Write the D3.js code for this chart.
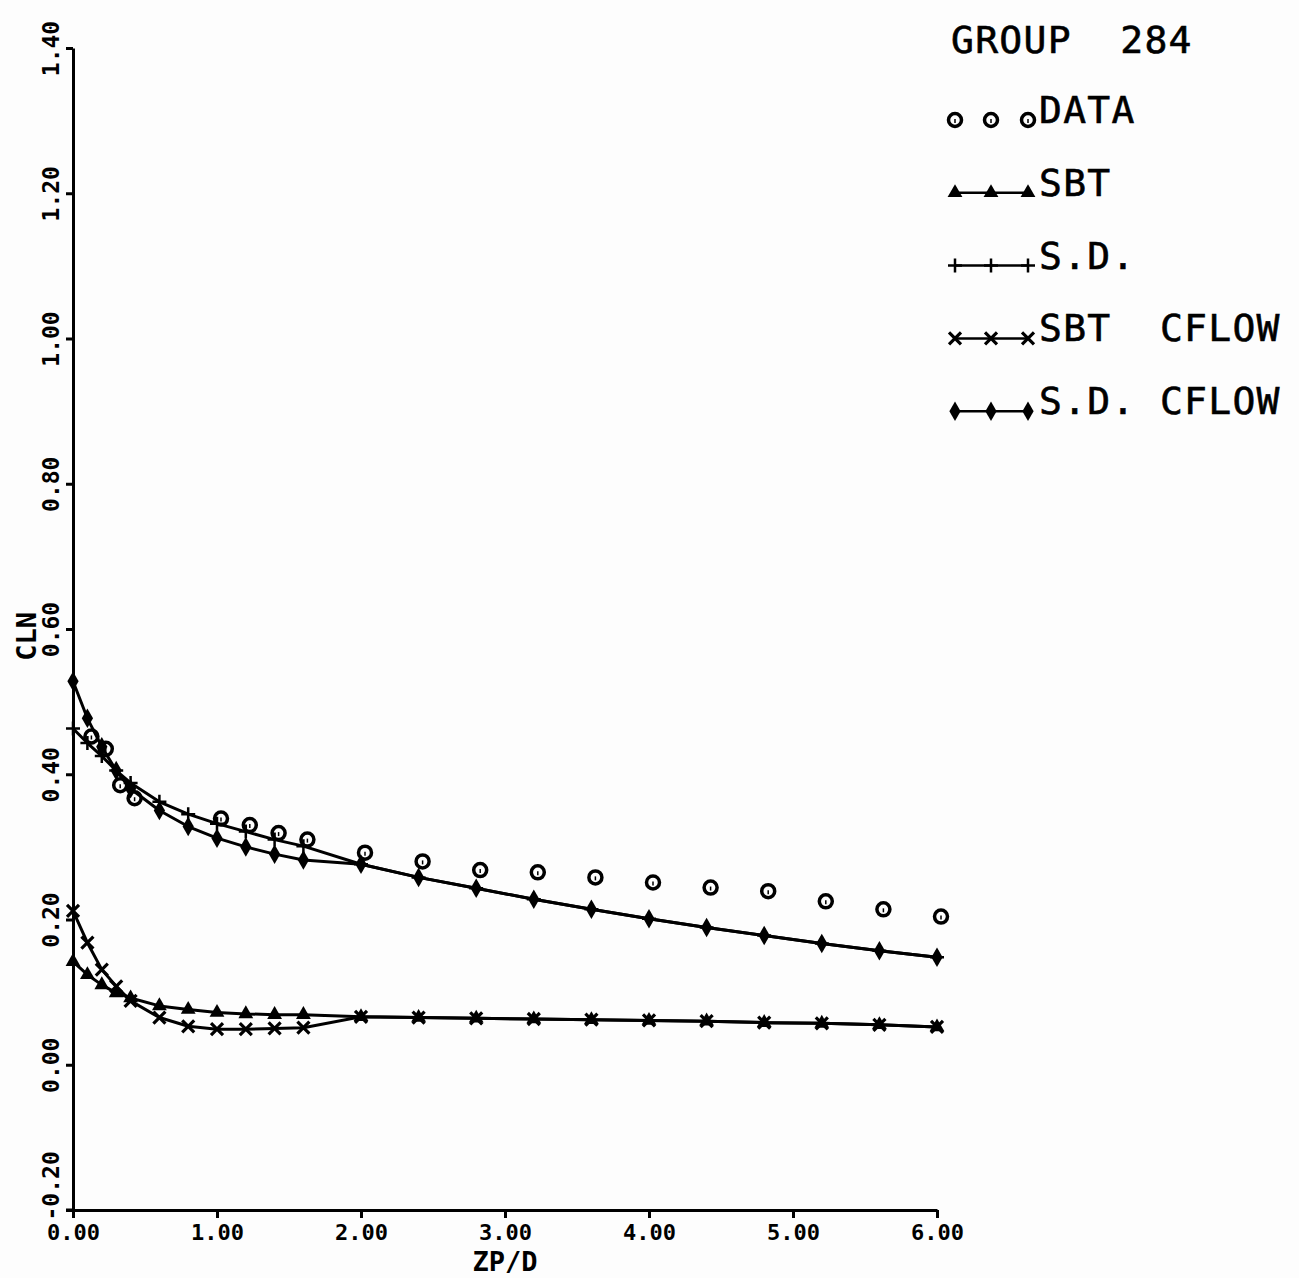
<!DOCTYPE html>
<html>
<head>
<meta charset="utf-8">
<script src="https://cdn.jsdelivr.net/npm/d3@7"></script>
<style>
  html, body { margin: 0; padding: 0; background: #fdfdfd; }
  svg { display: block; }
  text { fill: #000; }
</style>
</head>
<body>
<script>
// Axial stations ZP/D for the computed curves
const zpd = [0, 0.1, 0.2, 0.3, 0.4, 0.6, 0.8, 1.0, 1.2, 1.4, 1.6, 2.0, 2.4, 2.8, 3.2, 3.6, 4.0, 4.4, 4.8, 5.2, 5.6, 6.0];

// Computed CLN, one array per method
const sbt      = [0.142, 0.124, 0.110, 0.099, 0.092, 0.081, 0.076, 0.072, 0.070, 0.069, 0.069, 0.066, 0.065, 0.064, 0.063, 0.062, 0.061, 0.060, 0.058, 0.057, 0.055, 0.052];
const sd       = [0.463, 0.443, 0.425, 0.405, 0.388, 0.362, 0.345, 0.332, 0.321, 0.310, 0.301, 0.276, 0.258, 0.243, 0.228, 0.214, 0.201, 0.189, 0.178, 0.167, 0.157, 0.148];
const sbtCflow = [0.212, 0.168, 0.131, 0.108, 0.088, 0.065, 0.053, 0.049, 0.049, 0.050, 0.051, 0.066, 0.065, 0.064, 0.063, 0.062, 0.061, 0.060, 0.058, 0.057, 0.055, 0.052];
const sdCflow  = [0.528, 0.477, 0.438, 0.405, 0.380, 0.350, 0.328, 0.312, 0.300, 0.290, 0.282, 0.276, 0.258, 0.243, 0.228, 0.214, 0.201, 0.189, 0.178, 0.167, 0.157, 0.148];

// Measured CLN
const dataZpd = [0.1, 0.2, 0.3, 0.4, 1.0, 1.2, 1.4, 1.6, 2.0, 2.4, 2.8, 3.2, 3.6, 4.0, 4.4, 4.8, 5.2, 5.6, 6.0];
const dataCln = [0.452, 0.435, 0.385, 0.367, 0.339, 0.330, 0.319, 0.310, 0.292, 0.280, 0.268, 0.265, 0.258, 0.251, 0.244, 0.239, 0.225, 0.214, 0.204];

// Axis ticks
const xTicks = [0, 1, 2, 3, 4, 5, 6];
const yTicks = [-0.2, 0, 0.2, 0.4, 0.6, 0.8, 1.0, 1.2, 1.4];

const title = "GROUP  284";
const legendNames = ["DATA", "SBT", "S.D.", "SBT  CFLOW", "S.D. CFLOW"];

const W = 1299, H = 1278;
const svg = d3.select("body").append("svg").attr("width", W).attr("height", H);
svg.append("rect").attr("width", W).attr("height", H).attr("fill", "#fdfdfd");

const x = d3.scaleLinear().domain([0, 6]).range([73, 937]);
const y = d3.scaleLinear().domain([-0.2, 1.4]).range([1210, 48]);

const monoBold = "'DejaVu Sans Mono', 'Liberation Mono', monospace";

// ---- axes ----
const yAxis = svg.append("g").attr("transform", `translate(${x(0)},0)`)
  .call(d3.axisLeft(y).tickValues(yTicks).tickSize(7).tickSizeOuter(0).tickFormat(d => d.toFixed(2)));
yAxis.select(".domain").attr("stroke", "#000").attr("stroke-width", 3);
yAxis.selectAll(".tick line").attr("stroke", "#000").attr("stroke-width", 3);
yAxis.selectAll(".tick text")
  .attr("x", 0).attr("dy", null).attr("y", 0)
  .attr("transform", d => d < 0 ? "translate(-14,10) rotate(-90)" : "translate(-14,0) rotate(-90)")
  .attr("text-anchor", d => d < 0 ? "start" : "middle")
  .attr("font-family", monoBold).attr("font-weight", "bold").attr("font-size", 23)
  .attr("fill", "#000");

const xAxis = svg.append("g").attr("transform", `translate(0,${y(-0.2)})`)
  .call(d3.axisBottom(x).tickValues(xTicks).tickSize(8).tickSizeOuter(0).tickFormat(d => d.toFixed(2)));
xAxis.select(".domain").attr("stroke", "#000").attr("stroke-width", 3);
xAxis.selectAll(".tick line").attr("stroke", "#000").attr("stroke-width", 3);
xAxis.selectAll(".tick text")
  .attr("y", 30).attr("dy", null)
  .attr("font-family", monoBold).attr("font-weight", "bold").attr("font-size", 22)
  .attr("fill", "#000");
// small left stub where the axes meet
svg.append("line").attr("x1", x(0) - 7).attr("x2", x(0)).attr("y1", y(-0.2)).attr("y2", y(-0.2))
  .attr("stroke", "#000").attr("stroke-width", 3);

// axis titles
svg.append("text").text("ZP/D")
  .attr("x", (x(0) + x(6)) / 2).attr("y", 1271)
  .attr("text-anchor", "middle")
  .attr("font-family", monoBold).attr("font-weight", "bold").attr("font-size", 27);
svg.append("text").text("CLN")
  .attr("transform", `translate(36,${y(0.59)}) rotate(-90)`)
  .attr("text-anchor", "middle")
  .attr("font-family", monoBold).attr("font-weight", "bold").attr("font-size", 27);

// ---- marker shapes ----
const markers = {
  circle: (g, cx, cy) => {
    g.append("circle").attr("cx", cx).attr("cy", cy).attr("r", 6.5)
      .attr("fill", "none").attr("stroke", "#000").attr("stroke-width", 3.5);
    g.append("line").attr("x1", cx).attr("x2", cx).attr("y1", cy - 1).attr("y2", cy + 3)
      .attr("stroke", "#000").attr("stroke-width", 1.5);
  },
  triangle: (g, cx, cy) => {
    g.append("path").attr("d", d3.symbol(d3.symbolTriangle, 95)())
      .attr("transform", `translate(${cx},${cy})`).attr("fill", "#000");
  },
  plus: (g, cx, cy) => {
    g.append("path").attr("d", `M${cx - 7},${cy}H${cx + 7}M${cx},${cy - 7}V${cy + 7}`)
      .attr("stroke", "#000").attr("stroke-width", 2.5).attr("fill", "none");
  },
  cross: (g, cx, cy) => {
    g.append("path").attr("d", `M${cx - 6},${cy - 6}L${cx + 6},${cy + 6}M${cx - 6},${cy + 6}L${cx + 6},${cy - 6}`)
      .attr("stroke", "#000").attr("stroke-width", 3.2).attr("fill", "none");
  },
  diamond: (g, cx, cy) => {
    g.append("path").attr("d", d3.symbol(d3.symbolDiamond, 110)())
      .attr("transform", `translate(${cx},${cy})`).attr("fill", "#000");
  }
};

const line = d3.line().x(d => x(d[0])).y(d => y(d[1]));

const series = [
  { values: sbt, marker: "triangle" },
  { values: sd, marker: "plus" },
  { values: sbtCflow, marker: "cross" },
  { values: sdCflow, marker: "diamond" }
];

const plot = svg.append("g");
series.forEach(s => {
  const pts = zpd.map((z, i) => [z, s.values[i]]);
  plot.append("path").attr("d", line(pts))
    .attr("fill", "none").attr("stroke", "#000").attr("stroke-width", 3)
    .attr("stroke-linejoin", "round");
  const mg = plot.append("g");
  pts.forEach(p => markers[s.marker](mg, x(p[0]), y(p[1])));
});

// measured points
const dg = plot.append("g");
dataZpd.forEach((z, i) => markers.circle(dg, x(z) + 4, y(dataCln[i])));

// ---- legend ----
const legendFont = "'DejaVu Sans Mono', 'Liberation Mono', monospace";
svg.append("text").text(title)
  .attr("x", 951).attr("y", 53)
  .attr("font-family", legendFont).attr("font-size", 38).attr("letter-spacing", 1.3)
  .attr("stroke", "#000").attr("stroke-width", 0.6)
  .style("white-space", "pre");

const legendMarkers = ["circle", "triangle", "plus", "cross", "diamond"];
const lg = svg.append("g");
legendNames.forEach((name, i) => {
  const base = 123 + i * 72.8;
  const ly = base - 3;
  if (i > 0) {
    lg.append("line").attr("x1", 954).attr("x2", 1029).attr("y1", ly).attr("y2", ly)
      .attr("stroke", "#000").attr("stroke-width", 2.5);
  }
  [955, 991, 1028].forEach(cx => markers[legendMarkers[i]](lg, cx, ly));
  lg.append("text").text(name)
    .attr("x", 1039).attr("y", base)
    .attr("font-family", legendFont).attr("font-size", 38).attr("letter-spacing", 1.3)
    .attr("stroke", "#000").attr("stroke-width", 0.6)
    .style("white-space", "pre");
});
</script>
</body>
</html>
